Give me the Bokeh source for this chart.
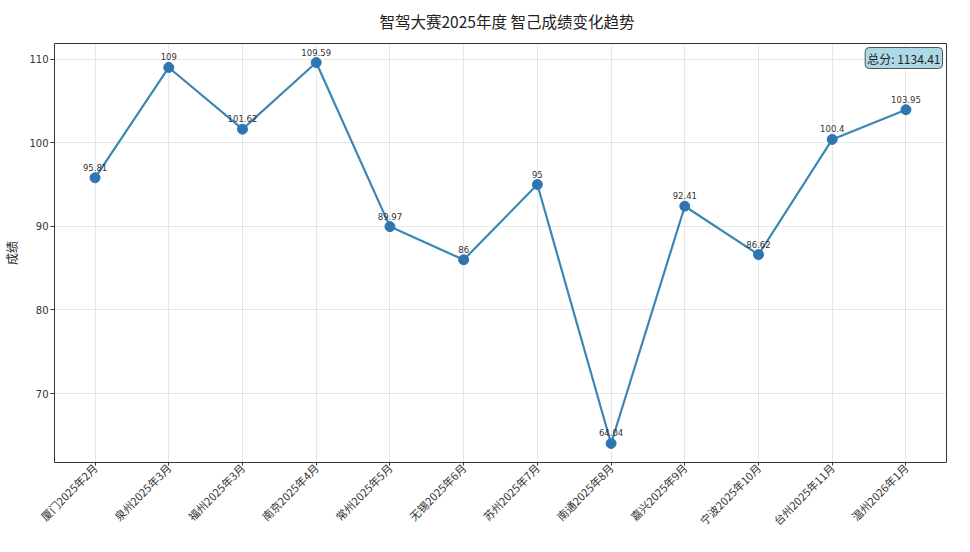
import math
from bokeh.plotting import figure
from bokeh.models import ColumnDataSource, FixedTicker, Label, Range1d
from bokeh.core.properties import value
from bokeh.embed import file_html
from bokeh.resources import INLINE

# chart data
cities = ["厦门2025年2月", "泉州2025年3月", "福州2025年3月", "南京2025年4月",
          "常州2025年5月", "无锡2025年6月", "苏州2025年7月", "南通2025年8月",
          "嘉兴2025年9月", "宁波2025年10月", "台州2025年11月", "温州2026年1月"]
scores = [95.81, 109, 101.62, 109.59, 89.97, 86, 95, 64.04, 92.41, 86.62, 100.4, 103.95]
y_ticks = [70, 80, 90, 100, 110]
title_text = "智驾大赛2025年度 智己成绩变化趋势"

CJK = "Noto Sans CJK SC"
NUM = "DejaVu Sans"

idx = list(range(len(cities)))
src = ColumnDataSource(dict(
    x=idx, y=scores,
    txt=[f"{s:g}" for s in scores],
))

# matplotlib-style 5% margins
pad_x = 0.05 * (len(cities) - 1)
pad_y = 0.05 * (max(scores) - min(scores))
x_lo, x_hi = -pad_x, len(cities) - 1 + pad_x
y_lo, y_hi = min(scores) - pad_y, max(scores) + pad_y

p = figure(width=954, height=536, output_backend="svg", toolbar_location=None,
           x_range=Range1d(x_lo, x_hi), y_range=Range1d(y_lo, y_hi),
           min_border_left=49, min_border_right=8, min_border_top=43, min_border_bottom=72)

p.title.text = title_text
p.title.align = "left"
p.title.offset = 325
p.title.vertical_align = "top"
p.title.standoff = 19
p.title.text_font = CJK
p.title.text_font_size = "15.5px"
p.title.text_font_style = "normal"
p.title.text_color = "#222222"

p.outline_line_color = "#333333"
p.outline_line_width = 1
p.background_fill_color = "white"
p.border_fill_color = "white"

p.xgrid.ticker = FixedTicker(ticks=idx)
p.ygrid.ticker = FixedTicker(ticks=y_ticks)
p.grid.grid_line_color = "#b0b0b0"
p.grid.grid_line_alpha = 0.3

p.xaxis.ticker = FixedTicker(ticks=idx)
p.xaxis.major_label_overrides = {i: c for i, c in enumerate(cities)}
p.xaxis.major_label_orientation = math.pi / 4
p.xaxis.major_label_text_font = CJK
p.xaxis.major_label_text_font_size = "11px"

p.yaxis.ticker = FixedTicker(ticks=y_ticks)
p.yaxis.axis_label = "成绩"
p.yaxis.axis_label_text_font = CJK
p.yaxis.axis_label_text_font_size = "12px"
p.yaxis.axis_label_text_font_style = "normal"
p.yaxis.axis_label_standoff = 6
p.yaxis.major_label_text_font = NUM
p.yaxis.major_label_text_font_size = "10px"

for ax in (p.xaxis, p.yaxis):
    ax.axis_line_color = None
    ax.minor_tick_line_color = None
    ax.major_tick_out = 4
    ax.major_tick_in = 0
    ax.major_tick_line_color = "#333333"
    ax.major_label_text_color = "#333333"
    ax.axis_label_text_color = "#222222"
p.yaxis.major_label_standoff = 2
p.xaxis.major_label_standoff = 0
p.xaxis.major_tick_out = 3

p.line("x", "y", source=src, line_color="#3a87b5", line_width=2.2)
p.scatter("x", "y", source=src, size=10, fill_color="#2f75b1", line_color="#2f75b1")

p.text("x", "y", text="txt", source=src, text_align="center", text_baseline="bottom",
       y_offset=-7, text_font=value(NUM), text_font_size="8.5px", text_color="#333333")

total = Label(x=x_hi, y=y_hi, x_offset=-4, y_offset=-4,
              text=f"总分: {sum(scores):.2f}", text_align="right", text_baseline="top",
              text_font=CJK, text_font_size="12px", text_color="#222222",
              background_fill_color="#add8e6", background_fill_alpha=1.0,
              border_line_color="#555555", border_line_width=1,
              padding=2, border_radius=4)
p.add_layout(total)

open("out.html", "w").write(file_html(p, INLINE))
